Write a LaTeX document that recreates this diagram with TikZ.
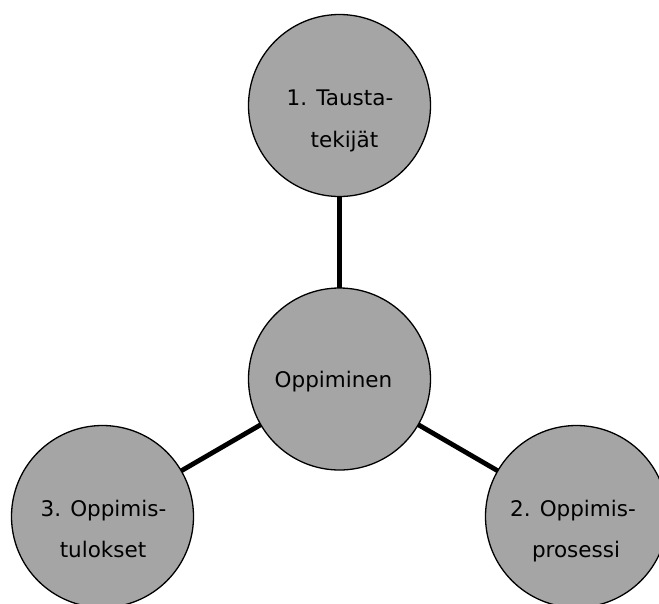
\documentclass[tikz,border=0pt]{standalone}
\usepackage{fontspec}
\setmainfont{DejaVu Sans}
\definecolor{circfill}{HTML}{A5A5A5}
\begin{document}
\begin{tikzpicture}[x=1pt,y=-1pt,
  bubble/.style={circle, draw=black, line width=1.3pt, fill=circfill, minimum size=182pt, inner sep=0pt, outer sep=0pt},
  link/.style={line width=4.8pt, draw=black},
  lbl/.style={anchor=base, inner sep=0pt, text=black, font=\fontsize{21.5}{26}\selectfont}]
\useasboundingbox (0,0) rectangle (659,603);
\node[bubble] (top) at (339.5,105.5) {};
\node[bubble] (mid) at (339.5,379) {};
\node[bubble] (left) at (102.5,516.5) {};
\node[bubble] (right) at (576.5,516.5) {};
\draw[link] (mid) -- (top);
\draw[link] (mid) -- (left);
\draw[link] (mid) -- (right);
\node[lbl] (topA) at (340,105) {1. Tausta-};
\node[lbl] (topB) at (344.5,147) {tekijät};
\node[lbl] (midA) at (333.5,387) {Oppiminen};
\node[lbl] (leftA) at (103.5,516.7) {3. Oppimis-};
\node[lbl] (leftB) at (103,557) {tulokset};
\node[lbl] (rightA) at (573,516.7) {2. Oppimis-};
\node[lbl] (rightB) at (576,557) {prosessi};
\end{tikzpicture}
\end{document}
